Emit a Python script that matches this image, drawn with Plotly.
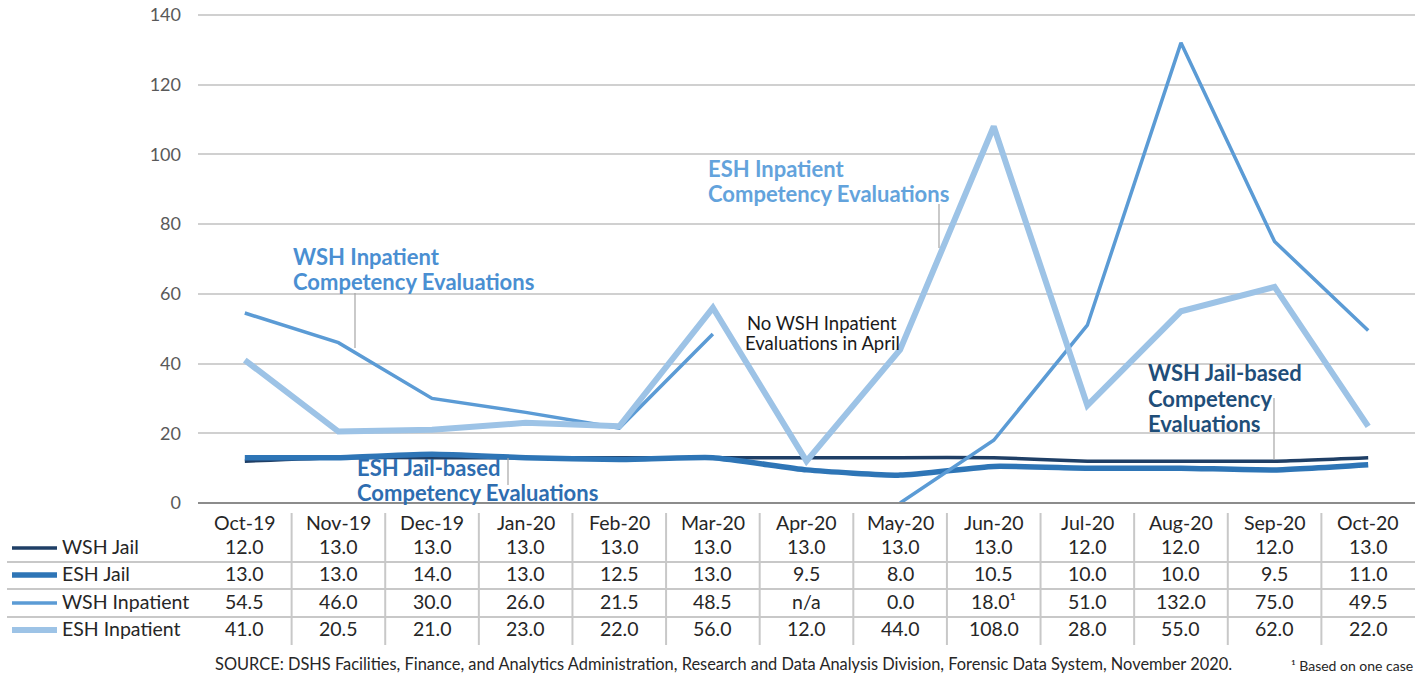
import plotly.graph_objects as go

months = ["Oct-19", "Nov-19", "Dec-19", "Jan-20", "Feb-20", "Mar-20", "Apr-20",
          "May-20", "Jun-20", "Jul-20", "Aug-20", "Sep-20", "Oct-20"]
wsh_jail = [12.0, 13.0, 13.0, 13.0, 13.0, 13.0, 13.0, 13.0, 13.0, 12.0, 12.0, 12.0, 13.0]
esh_jail = [13.0, 13.0, 14.0, 13.0, 12.5, 13.0, 9.5, 8.0, 10.5, 10.0, 10.0, 9.5, 11.0]
wsh_inpatient = [54.5, 46.0, 30.0, 26.0, 21.5, 48.5, None, 0.0, 18.0, 51.0, 132.0, 75.0, 49.5]
esh_inpatient = [41.0, 20.5, 21.0, 23.0, 22.0, 56.0, 12.0, 44.0, 108.0, 28.0, 55.0, 62.0, 22.0]
series_names = ["WSH Jail", "ESH Jail", "WSH Inpatient", "ESH Inpatient"]
y_ticks = [0, 20, 40, 60, 80, 100, 120, 140]

FONT = "Lato"
FIG_W, FIG_H = 1426, 677
Y_MAX = 142
L, R, B = 198, 1415, 503  # plot area in page pixels
T = B - (B - 15) * Y_MAX / 140  # so that 140 sits at page y = 15

def px(x):
    return (x - L) / (R - L)

def py(y):
    return (B - y) / (B - T)

colors = ["#1F3F66", "#2E75B6", "#5B9BD5", "#9DC3E6"]
widths = [3.5, 5.5, 3.5, 6]
shapes_ = ["spline", "spline", "linear", "linear"]
data = [wsh_jail, esh_jail, wsh_inpatient, esh_inpatient]

fig = go.Figure()
for name, vals, c, w, s in zip(series_names, data, colors, widths, shapes_):
    fig.add_trace(go.Scatter(
        x=months, y=vals, mode="lines", name=name,
        line=dict(color=c, width=w, shape=s, smoothing=0.5),
        connectgaps=False, hoverinfo="x+y+name"))

shapes = []
annotations = []
TXT = "#262626"
TS = 19.5

# table header
for m in months:
    annotations.append(dict(x=m, xref="x", y=py(522), yref="paper", text=m,
                            showarrow=False, font=dict(family=FONT, size=TS, color=TXT),
                            xanchor="center", yanchor="middle"))

row_y = [546, 573, 601, 628]
for vals, name, c, w, ry in zip(data, series_names, colors, widths, row_y):
    for m, v in zip(months, vals):
        if v is None:
            txt = "n/a"
        else:
            txt = f"{v:.1f}"
            if name == "WSH Inpatient" and m == "Jun-20":
                txt += "¹"
        annotations.append(dict(x=m, xref="x", y=py(ry), yref="paper", text=txt,
                                showarrow=False, font=dict(family=FONT, size=TS, color=TXT),
                                xanchor="center", yanchor="middle"))
    annotations.append(dict(x=px(60), xref="paper", y=py(ry), yref="paper", text=name,
                            showarrow=False, font=dict(family=FONT, size=TS, color=TXT),
                            xanchor="left", yanchor="middle"))
    shapes.append(dict(type="line", xref="paper", yref="paper", x0=px(12), x1=px(57),
                       y0=py(ry + 2), y1=py(ry + 2), line=dict(color=c, width=w)))

# table grid lines
for hy in [562, 589, 617]:
    shapes.append(dict(type="line", xref="paper", yref="paper", x0=px(7), x1=1,
                       y0=py(hy), y1=py(hy), line=dict(color="#C8C8C8", width=2)))
for i in range(len(months) - 1):
    shapes.append(dict(type="line", xref="x", yref="paper", x0=i + 0.5, x1=i + 0.5,
                       y0=py(513), y1=py(645), line=dict(color="#C8C8C8", width=2)))

# x axis baseline
shapes.append(dict(type="line", xref="paper", yref="paper", x0=0, x1=1, y0=0, y1=0,
                   line=dict(color="#8C8C8C", width=2)))

# callout labels (one annotation per line for exact spacing)
def label(x, ys, lines, color, size=22, bold=True, anchor="left"):
    for y, line in zip(ys, lines):
        t = f"<b>{line}</b>" if bold else line
        annotations.append(dict(x=px(x), xref="paper", y=py(y), yref="paper", text=t,
                                showarrow=False, align=anchor,
                                font=dict(family=FONT, size=size, color=color),
                                xanchor=anchor, yanchor="middle"))

def leader(x, y0, y1):
    shapes.append(dict(type="line", xref="paper", yref="paper", x0=px(x), x1=px(x),
                       y0=py(y0), y1=py(y1), line=dict(color="#A6A6A6", width=1.2)))

label(291, [257, 282], ["WSH Inpatient", "Competency Evaluations"], "#4A8FD2")
leader(355, 293, 348)
label(706, [169, 194], ["ESH Inpatient", "Competency Evaluations"], "#63A3DC")
leader(939, 204, 248)
label(822, [323, 343], ["No WSH Inpatient", "Evaluations in April"], "#1A1A1A",
      size=18.5, bold=False, anchor="center")
label(1146, [373, 399, 424], ["WSH Jail-based", "Competency", "Evaluations"], "#1F4E79")
leader(1274, 398, 460)
label(355, [468, 493], ["ESH Jail-based", "Competency Evaluations"], "#2E6DB0")
leader(508, 458, 485)

# source and footnote
annotations.append(dict(x=px(213), xref="paper", y=py(663), yref="paper",
                        text="SOURCE: DSHS Facilities, Finance, and Analytics Administration, Research and Data Analysis Division, Forensic Data System, November 2020.",
                        showarrow=False, font=dict(family=FONT, size=16.4, color=TXT),
                        xanchor="left", yanchor="middle"))
annotations.append(dict(x=px(1415), xref="paper", y=py(665), yref="paper",
                        text="¹ Based on one case", showarrow=False,
                        font=dict(family=FONT, size=14, color=TXT),
                        xanchor="right", yanchor="middle"))

fig.update_layout(
    width=FIG_W, height=FIG_H,
    margin=dict(l=L, r=FIG_W - R, t=T, b=FIG_H - B, pad=0, autoexpand=False),
    paper_bgcolor="white", plot_bgcolor="white",
    showlegend=False,
    shapes=shapes, annotations=annotations,
    xaxis=dict(type="category", showticklabels=False, showgrid=False, zeroline=False,
               showline=False, ticks="", range=[-0.5, len(months) - 0.5], fixedrange=True,
               automargin=False),
    yaxis=dict(range=[0, Y_MAX], tickvals=y_ticks, showgrid=True, gridcolor="#D0D0D0",
               gridwidth=1.5, zeroline=False, showline=False, ticks="",
               tickfont=dict(family=FONT, size=18, color="#595959"),
               ticklabelstandoff=16, ticklabeloverflow="allow", fixedrange=True,
               automargin=False),
)

fig.write_html("out.html",
               config={"displayModeBar": False},
               post_script="document.body.style.margin='0';document.body.style.overflow='hidden';")
